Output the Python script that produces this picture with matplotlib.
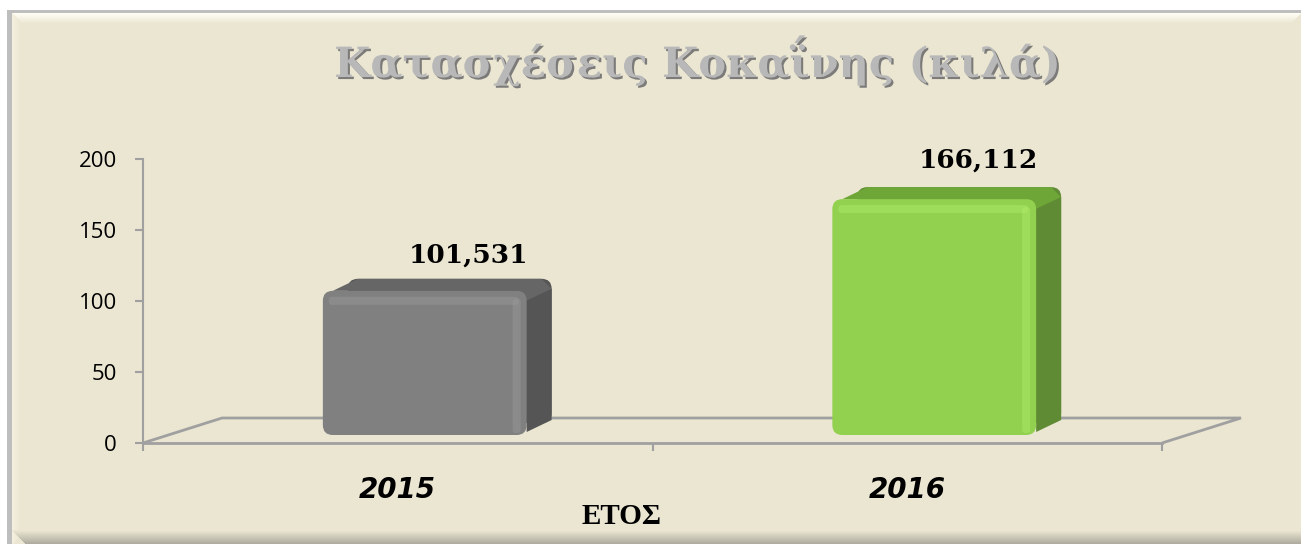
import matplotlib
matplotlib.use('Agg')
import matplotlib.pyplot as plt
from matplotlib.patches import Polygon, Rectangle, FancyBboxPatch
import matplotlib.transforms as mtransforms
import matplotlib.patheffects as pe
import numpy as np

# ---- data ----
categories = ['2015', '2016']
values = [101.531, 166.112]
value_labels = ['101,531', '166,112']
yticks = [0, 50, 100, 150, 200]
title = 'Κατασχέσεις Κοκαΐνης (κιλά)'
xlabel = 'ΕΤΟΣ'

# ---- styles ----
front_cols = ['#808080', '#92D050']
top_cols = ['#666666', '#6EA637']
side_cols = ['#555555', '#5F8B34']
hi_cols = ['#9A9A9A', '#AEEC6A']
label_dy_px = [36, 40]
panel = '#EBE6D2'

W, H, DPI = 1301, 544, 100
fig = plt.figure(figsize=(W / DPI, H / DPI), dpi=DPI)
fig.patch.set_facecolor('white')


def fx(px):
    return px / W


def fy(py):
    return 1 - py / H


def frect(x0, y0, x1, y1, col, z=-5):
    fig.patches.append(Rectangle((fx(x0), fy(y1)), fx(x1) - fx(x0), fy(y0) - fy(y1),
                                 transform=fig.transFigure, facecolor=col,
                                 edgecolor='none', zorder=z))


# frame / bevel
frect(7, 10, W, H, '#BEBEBE')
frect(12, 13, W, H, panel)
for k in range(10):
    t = k / 10
    c = np.array([1.0, 0.995, 0.96]) * (1 - t) + np.array([235, 230, 210]) / 255 * t
    frect(12 + k, 13 + k, W - k, 14 + k, tuple(c))
for k in range(8):
    t = k / 8
    c = np.array([0.96, 0.94, 0.87]) * (1 - t) + np.array([235, 230, 210]) / 255 * t
    frect(12 + k, 13 + k, 13 + k, H - k, tuple(c))
for k in range(14):
    t = k / 14
    c = np.array([235, 230, 210]) / 255 * (1 - t) + np.array([170, 168, 155]) / 255 * t
    frect(12 + k, H - 14 + k, W, H - 13 + k, tuple(c))

# ---- axes ----
ax = fig.add_axes([fx(143), fy(443), fx(1162) - fx(143), (443 - 159) / H])
ax.set_zorder(2)
ax.patch.set_alpha(0)
ax.set_xlim(-0.5, 1.5)
ax.set_ylim(0, 200)
ax.set_autoscale_on(False)
for s in ['top', 'right']:
    ax.spines[s].set_visible(False)
ax.spines['left'].set_color('#A0A0A0')
ax.spines['left'].set_linewidth(1.5)
ax.spines['bottom'].set_color('#A0A0A0')
ax.spines['bottom'].set_linewidth(2)

ax.set_yticks(yticks)
ax.set_yticklabels([str(t) for t in yticks], family='Open Sans', fontsize=16)
ax.tick_params(axis='y', length=5.8, width=1.5, color='#A0A0A0', pad=13)
ax.set_xticks(range(len(categories)))
ax.set_xticklabels(categories, fontsize=20, fontweight='bold', style='italic',
                   family='DejaVu Sans')
ax.tick_params(axis='x', which='major', length=0, pad=24)
ax.set_xticks([-0.5, 0.5, 1.5], minor=True)
ax.tick_params(axis='x', which='minor', length=6, width=1.5, color='#A0A0A0')

# floor (back edge offset)
dpx, dpy = 79, 25


def disp(x, y, ox=0, oy=0):
    p = ax.transData.transform((x, y))
    return (p[0] + ox, p[1] + oy)


ident = mtransforms.IdentityTransform()
fl = [disp(-0.5, 0), disp(-0.5, 0, dpx, dpy), disp(1.5, 0, dpx, dpy), disp(1.5, 0)]
ax.add_patch(Polygon(fl, closed=False, fill=False, edgecolor='#A0A0A0', lw=2,
                     transform=ident, clip_on=False, zorder=1))

# ---- bars ----
bar_w = 0.4
off_x, off_y = 27, 8
dep_x, dep_y = 25, 12
r = 10
bars = ax.bar(range(len(values)), values, width=bar_w)
for i, (b, v) in enumerate(zip(bars, values)):
    b.set_visible(False)
    bx, by = b.get_x(), b.get_y()
    x0, y0 = disp(bx, by, off_x, off_y)
    x1, y1 = disp(bx + b.get_width(), by + b.get_height(), off_x, off_y)
    kw = dict(transform=ident, clip_on=False, edgecolor='none')
    # back face (rounded) for rounded back corners
    ax.add_patch(FancyBboxPatch((x0 + dep_x, y0 + dep_y), x1 - x0, y1 - y0,
                                boxstyle=f'round,pad=0,rounding_size={r}',
                                facecolor=side_cols[i], zorder=3, **kw))
    top = [(x0 + r, y1), (x0 + r + dep_x, y1 + dep_y), (x1 - r + dep_x, y1 + dep_y),
           (x1 + dep_x, y1 + dep_y - r), (x1, y1 - r), (x1 - r, y1)]
    ax.add_patch(Polygon(top, closed=True, facecolor=top_cols[i], zorder=3.1, **kw))
    side = [(x1, y0 + 3), (x1 + dep_x, y0 + dep_y + 3), (x1 + dep_x, y1 + dep_y - r),
            (x1, y1 - r)]
    ax.add_patch(Polygon(side, closed=True, facecolor=side_cols[i], zorder=3.2, **kw))
    # front face
    ax.add_patch(FancyBboxPatch((x0, y0), x1 - x0, y1 - y0,
                                boxstyle=f'round,pad=0,rounding_size={r}',
                                facecolor=front_cols[i], zorder=3.5, **kw))
    # soft bevel highlights
    ax.add_patch(FancyBboxPatch((x1 - 14, y0 + 2), 8, y1 - y0 - 10,
                                boxstyle='round,pad=0,rounding_size=3',
                                facecolor=hi_cols[i], alpha=0.45, zorder=3.6, **kw))
    ax.add_patch(FancyBboxPatch((x0 + 6, y1 - 14), x1 - x0 - 14, 8,
                                boxstyle='round,pad=0,rounding_size=3',
                                facecolor=hi_cols[i], alpha=0.45, zorder=3.6, **kw))
    ax.annotate(value_labels[i], xy=(i, v), xytext=(71, label_dy_px[i]),
                textcoords='offset pixels', ha='center', va='baseline',
                fontsize=19, fontweight='bold', family='DejaVu Serif',
                color='black', annotation_clip=False, zorder=5)

# ---- texts ----
fig.text(fx(697), fy(77), title, ha='center', va='baseline', fontsize=30,
         fontweight='bold', family='DejaVu Serif', color='#B8B8B8',
         path_effects=[pe.SimplePatchShadow(offset=(1.5, -1.5), shadow_rgbFace='#707070',
                                            alpha=0.9), pe.Normal()])
fig.text(fx(622), fy(516), xlabel, ha='center', va='center', fontsize=21,
         fontweight='bold', family='Liberation Serif', color='black')

fig.savefig('out.png', dpi=DPI, facecolor=fig.get_facecolor())
